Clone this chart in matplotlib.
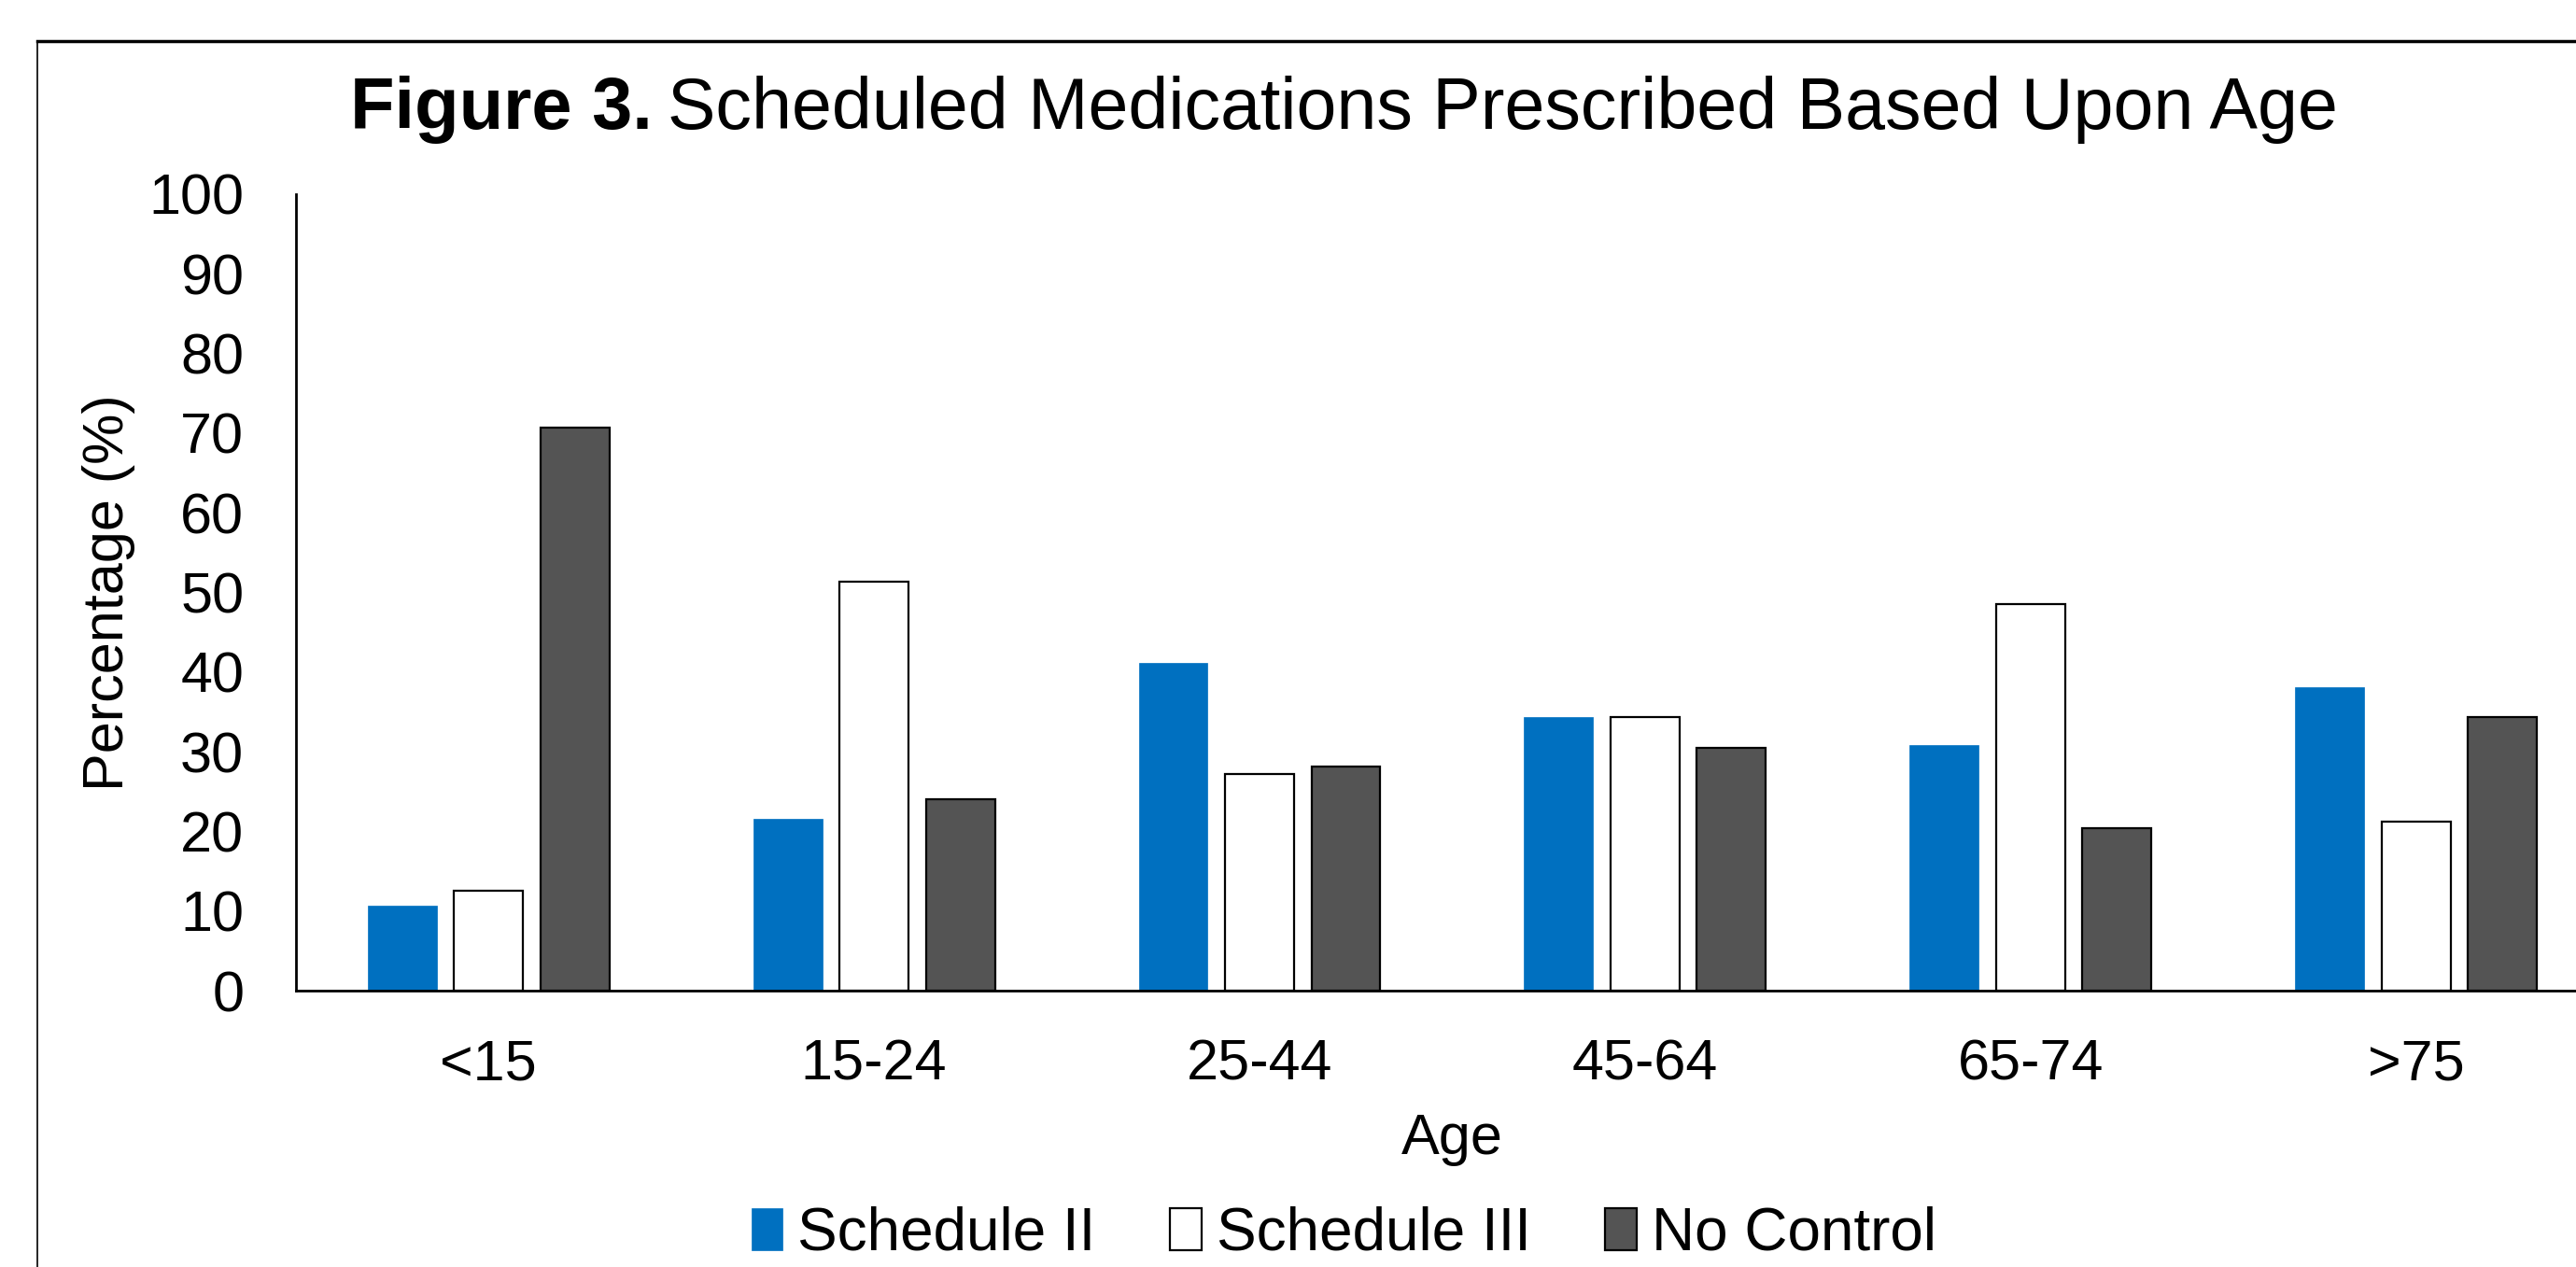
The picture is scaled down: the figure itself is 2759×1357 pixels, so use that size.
import matplotlib
matplotlib.use("Agg")
import matplotlib.pyplot as plt
import numpy as np
from matplotlib.lines import Line2D

plt.rcParams['font.family'] = ['Liberation Sans', 'DejaVu Sans']

ages = ["<15", "15-24", "25-44", "45-64", "65-74", ">75"]
schedule_ii = [10.7, 21.6, 41.2, 34.4, 30.9, 38.1]
schedule_iii = [12.6, 51.3, 27.2, 34.4, 48.5, 21.2]
no_control = [70.7, 24.1, 28.2, 30.5, 20.4, 34.4]
series_names = ["Schedule II", "Schedule III", "No Control"]

W, H = 2759, 1357
fig = plt.figure(figsize=(W / 100, H / 100), dpi=100)

# axes run past the right edge, the original picture is cropped there
ax = fig.add_axes([180 / 1568, 1 - 603 / 771, (1588 - 180) / 1568, (603 - 118) / 771])

x = np.arange(len(ages))
w = 0.179
step = 0.224
ax.bar(x - step, schedule_ii, w, color="#0070C0", edgecolor="#0070C0", linewidth=0.5, label=series_names[0])
ax.bar(x, schedule_iii, w, color="white", edgecolor="black", linewidth=1.6, label=series_names[1])
ax.bar(x + step, no_control, w, color="#545454", edgecolor="black", linewidth=1.6, label=series_names[2])

ax.set_xlim(-0.5, len(ages) - 0.5)
ax.set_ylim(0, 100)
ax.set_yticks(range(0, 101, 10))
ax.set_xticks(x)
ax.set_xticklabels(ages)
ax.tick_params(axis='y', length=0, pad=40, labelsize=44)
ax.tick_params(axis='x', length=0, pad=37, labelsize=44)
for s in ["top", "right"]:
    ax.spines[s].set_visible(False)
for s in ["left", "bottom"]:
    ax.spines[s].set_linewidth(2)
    ax.spines[s].set_color("black")

ax.set_xlabel("Age", fontsize=44, labelpad=16)
ax.set_ylabel("Percentage (%)", fontsize=44, labelpad=10)

# title: bold prefix + normal text
ty = 1 - 138 / H
fig.text(375 / W, ty, "Figure 3.", fontsize=56, fontweight="bold", va="baseline", ha="left")
fig.text(715 / W, ty, "Scheduled Medications Prescribed Based Upon Age", fontsize=55.5, va="baseline", ha="left")

leg = fig.legend(loc="center", bbox_to_anchor=(818 / 1568, 1 - 751 / 771), ncol=3, frameon=False,
                 fontsize=46, handlelength=0.52, handleheight=0.7, handletextpad=0.25, columnspacing=1.25)

# chart border (cropped on right and bottom)
fig.add_artist(Line2D([40 / W, 1.0], [1 - 44 / H, 1 - 44 / H], transform=fig.transFigure, color="black", linewidth=2.5))
fig.add_artist(Line2D([40 / W, 40 / W], [1 - 44 / H, 0.0], transform=fig.transFigure, color="black", linewidth=1.2))

fig.savefig("out.png", dpi=100)
